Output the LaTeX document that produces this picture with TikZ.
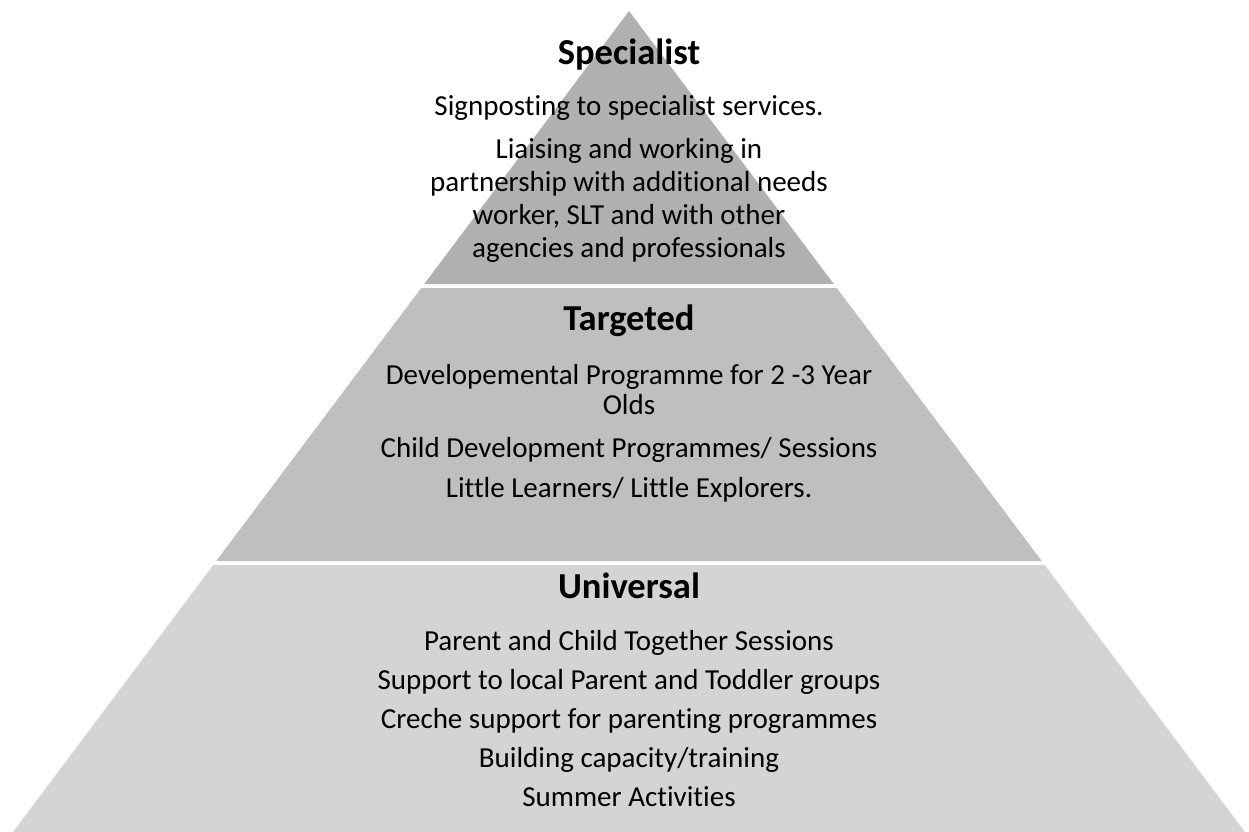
\documentclass[tikz,border=0pt]{standalone}
\usepackage{fontspec}
\setmainfont{Carlito}[Ligatures=NoCommon]
\definecolor{tiertop}{gray}{0.69}
\definecolor{tiermid}{gray}{0.75}
\definecolor{tierlow}{gray}{0.83}
\begin{document}
\begin{tikzpicture}[x=0.02cm, y=-0.02cm,
      every node/.style={inner sep=0pt, anchor=base},
      tiername/.style={font=\fontsize{20.8}{25}\selectfont\bfseries},
      tieritem/.style={font=\fontsize{16.5}{20}\selectfont}
    ]
    \useasboundingbox (0,0) rectangle (1249,832);

    % pyramid layers (one triangle cut in three)
    \fill[tiertop] (629,11) -- (833.8,284) -- (424.2,284) -- cycle;
    \fill[tiermid] (421.2,288) -- (836.8,288) -- (1041.7,561) -- (216.3,561) -- cycle;
    \fill[tierlow] (213.3,565) -- (1044.7,565) -- (1245,832) -- (13,832) -- cycle;

    % top layer
    \node[tiername] (S0) at (629,64) {Specialist};
    \node[tieritem] (S1) at (629,115) {Signposting to specialist services.};
    \node[tieritem] (S2) at (629,158) {Liaising and working in};
    \node[tieritem] (S3) at (629,191) {partnership with additional needs};
    \node[tieritem] (S4) at (629,224) {worker, SLT and with other};
    \node[tieritem] (S5) at (629,257) {agencies and professionals};

    % middle layer
    \node[tiername] (T0) at (629,330) {Targeted};
    \node[tieritem] (T1) at (629,384) {Developemental Programme for 2 -3 Year};
    \node[tieritem] (T2) at (629,414) {Olds};
    \node[tieritem] (T3) at (629,457) {Child Development Programmes/ Sessions};
    \node[tieritem] (T4) at (629,497) {Little Learners/ Little Explorers.};

    % bottom layer
    \node[tiername] (U0) at (629,598) {Universal};
    \node[tieritem] (U1) at (629,650) {Parent and Child Together Sessions};
    \node[tieritem] (U2) at (629,689) {Support to local Parent and Toddler groups};
    \node[tieritem] (U3) at (629,728) {Creche support for parenting programmes};
    \node[tieritem] (U4) at (629,767) {Building capacity/training};
    \node[tieritem] (U5) at (629,806) {Summer Activities};

\end{tikzpicture}
\end{document}
